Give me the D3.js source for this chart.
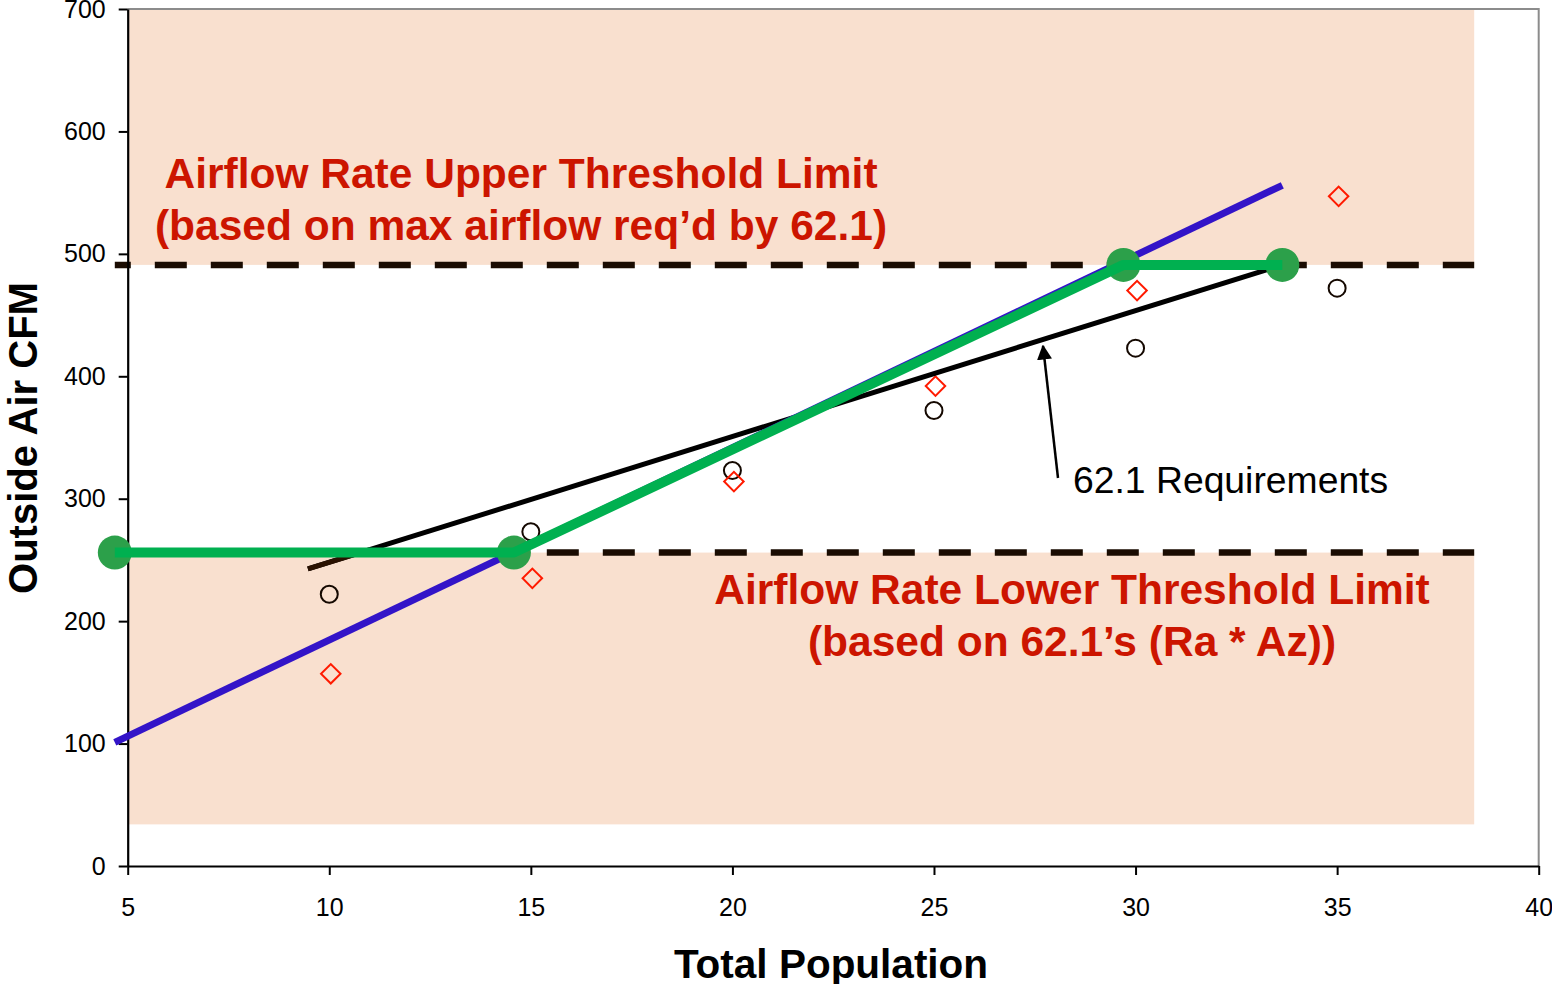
<!DOCTYPE html>
<html><head><meta charset="utf-8">
<script src="https://cdn.jsdelivr.net/npm/d3@7"></script>
<style>html,body{margin:0;padding:0;background:#fff;}svg{display:block;font-family:"Liberation Sans",Arial,sans-serif;}</style>
</head><body>
<svg id="chart" width="1552" height="984"></svg>
<script>
// ---- data ----
const xTicks = [5,10,15,20,25,30,35,40];
const yTicks = [0,100,200,300,400,500,600,700];
const population = [10,15,20,25,30,35];
const circleCFM = [222,273,323,372,423,472];
const diamondCFM = [157,235,314,392,470,547];
const upperLimit = 491;
const lowerLimit = 256;
const bandXRange = [5,38.4];
const upperBand = [491,700];
const lowerBand = [34,256];
const dashXRange = [4.68,38.4];
const blueLine = [[4.68,101],[33.64,556]];
const greenX = [4.68,14.58,29.7,33.64];
const greenY = [256,256,491,491];
const blackLine = [[9.47,242.6],[33.64,491]];
const blackLineStart = [[9.47,242.6],[11.0,258.3]];

const W=1552,H=984;
const m={left:127.7,right:13.3,top:9,bottom:118};
const svg=d3.select("#chart");
const x=d3.scaleLinear().domain([5,40]).range([m.left,W-m.right]);
const y=d3.scaleLinear().domain([0,700]).range([H-m.bottom,m.top]);

// bands
const bandColor="#f9e0cf";
svg.append("rect").attr("x",x(bandXRange[0])+1).attr("width",x(bandXRange[1])-x(bandXRange[0])-1)
  .attr("y",y(upperBand[1])).attr("height",y(upperBand[0])-y(upperBand[1])).attr("fill",bandColor);
svg.append("rect").attr("x",x(bandXRange[0])+1).attr("width",x(bandXRange[1])-x(bandXRange[0])-1)
  .attr("y",y(lowerBand[1])).attr("height",y(lowerBand[0])-y(lowerBand[1])).attr("fill",bandColor);

// border top/right
svg.append("path").attr("d",`M${x(5)},${y(700)}H${x(40)}V${y(0)}`).attr("fill","none").attr("stroke","#8c8c8c").attr("stroke-width",2);

// dashed limit lines
[upperLimit,lowerLimit].forEach(v=>{
  svg.append("line").attr("x1",x(dashXRange[0])).attr("x2",x(dashXRange[1]))
    .attr("y1",y(v)).attr("y2",y(v)).attr("stroke","#1a0c02").attr("stroke-width",6.5)
    .attr("stroke-dasharray","32,24").attr("stroke-dashoffset",16);
});

// axes
const yAxis=svg.append("g").attr("transform",`translate(${x(5)},0)`)
  .call(d3.axisLeft(y).tickValues(yTicks).tickSize(9).tickPadding(13).tickSizeOuter(0));
const xAxis=svg.append("g").attr("transform",`translate(0,${y(0)})`)
  .call(d3.axisBottom(x).tickValues(xTicks).tickSize(9).tickPadding(23).tickSizeOuter(0));
[yAxis,xAxis].forEach(g=>{
  g.select(".domain").attr("stroke","#000").attr("stroke-width",2.2);
  g.selectAll(".tick line").attr("stroke","#000").attr("stroke-width",2);
  g.selectAll(".tick text").attr("fill","#000").style("font-size","25px").style("font-family","'Liberation Sans',Arial,sans-serif");
});

// red upper/lower text
const red="#cc1500";
function label(lines,cx,baselines){
  lines.forEach((t,i)=>svg.append("text").attr("x",cx).attr("y",baselines[i]).attr("text-anchor","middle")
    .attr("fill",red).style("font-weight","bold").style("font-size","42.5px").text(t));
}
label(["Airflow Rate Upper Threshold Limit","(based on max airflow req\u2019d by 62.1)"],521,[188,240]);
label(["Airflow Rate Lower Threshold Limit","(based on 62.1\u2019s (Ra * Az))"],1072,[604,656]);

// markers: circles & diamonds
svg.append("g").selectAll("circle").data(population).join("circle")
  .attr("cx",d=>x(d)).attr("cy",(d,i)=>y(circleCFM[i])).attr("r",8.5)
  .attr("fill","none").attr("stroke","#140800").attr("stroke-width",2);
const dsize=d3.symbol().type(d3.symbolSquare).size(190)();
svg.append("g").selectAll("path").data(population).join("path")
  .attr("d",dsize)
  .attr("transform",(d,i)=>`translate(${x(d)+1.5},${y(diamondCFM[i])}) rotate(45)`)
  .attr("fill","none").attr("stroke","#ff1a00").attr("stroke-width",2);

// black 62.1 line
const line=d3.line().x(d=>x(d[0])).y(d=>y(d[1]));
svg.append("path").attr("d",line(blackLine)).attr("stroke","#000").attr("stroke-width",5).attr("fill","none");
svg.append("path").attr("d",line(blackLineStart)).attr("stroke","#2a1100").attr("stroke-width",5).attr("fill","none");

// blue line
svg.append("path").attr("d",line(blueLine)).attr("stroke","#3314c8").attr("stroke-width",7).attr("fill","none");

// green markers then line
const greenPts=greenX.map((d,i)=>[d,greenY[i]]);
svg.append("g").selectAll("circle").data(greenPts).join("circle")
  .attr("cx",d=>x(d[0])).attr("cy",d=>y(d[1])).attr("r",17).attr("fill","#2ca04a");
svg.append("path").attr("d",line(greenPts)).attr("stroke","#00b050").attr("stroke-width",10)
  .attr("fill","none").attr("stroke-linejoin","round");

// annotation arrow
const defs=svg.append("defs");
defs.append("marker").attr("id","arr").attr("viewBox","0 0 10 10").attr("refX",9).attr("refY",5)
  .attr("markerWidth",6).attr("markerHeight",6).attr("markerUnits","strokeWidth").attr("orient","auto")
  .append("path").attr("d","M0,0L10,5L0,10Z").attr("fill","#000");
svg.append("line").attr("x1",1058).attr("y1",478).attr("x2",1043).attr("y2",346)
  .attr("stroke","#000").attr("stroke-width",2.5).attr("marker-end","url(#arr)");
svg.append("text").attr("x",1073).attr("y",493).style("font-size","37.3px").attr("fill","#000").text("62.1 Requirements");

// axis titles
svg.append("text").attr("transform",`translate(37,438) rotate(-90)`).attr("text-anchor","middle")
  .style("font-weight","bold").style("font-size","40px").text("Outside Air CFM");
svg.append("text").attr("x",831).attr("y",978).attr("text-anchor","middle")
  .style("font-weight","bold").style("font-size","40.5px").text("Total Population");
</script>
</body></html>
